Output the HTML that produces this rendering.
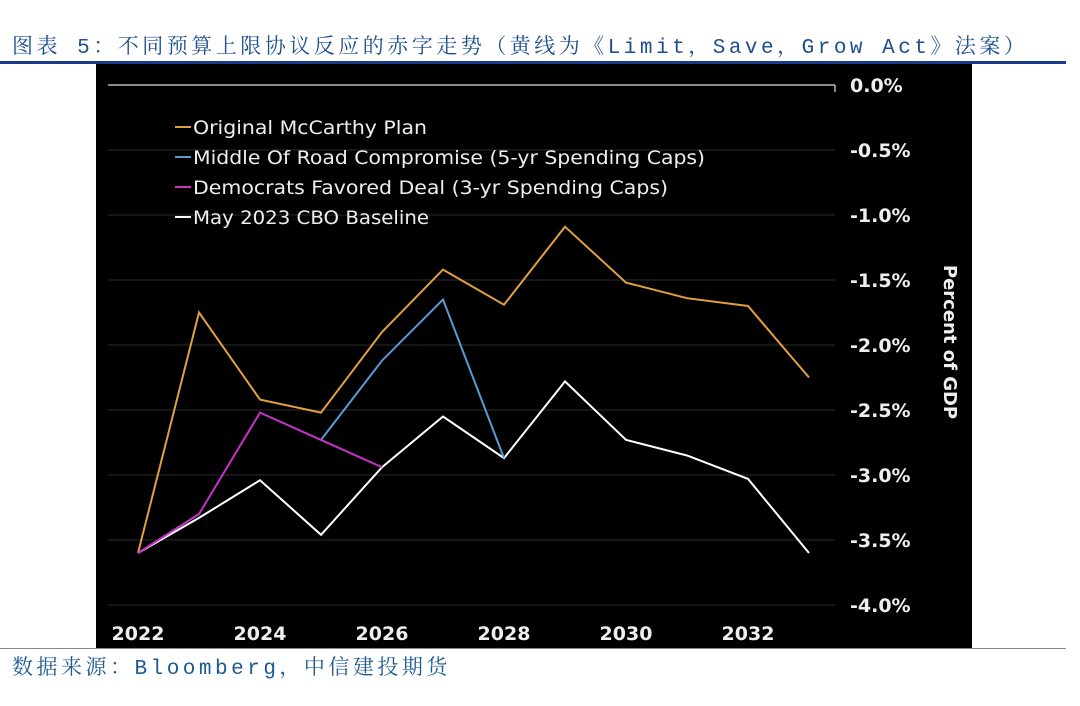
<!DOCTYPE html>
<html><head><meta charset="utf-8"><style>
body{margin:0;width:1080px;height:706px;background:#fff;overflow:hidden;position:relative;font-family:"Liberation Mono","Noto Serif CJK SC",serif}
#title{position:absolute;left:12px;top:30px;font-size:21px;letter-spacing:3.5px;color:#1c4f8f;white-space:nowrap}
#rule{position:absolute;left:0;top:61px;width:1066px;height:3px;background:#1a3b8a}
#src{position:absolute;left:12px;top:651px;font-size:21px;letter-spacing:3.5px;color:#1c5a92;white-space:nowrap}
#bot{position:absolute;left:0;top:648px;width:1066px;height:1px;background:#888}
svg{position:absolute;left:0;top:0}
</style></head><body>
<div id="title">图表 5：不同预算上限协议反应的赤字走势（黄线为《Limit，Save，Grow Act》法案）</div>
<div id="rule"></div>
<svg id="chart" width="1080" height="706"></svg>
<div id="bot"></div>
<div id="src">数据来源：Bloomberg，中信建投期货</div>
<script>
const years=[2022,2023,2024,2025,2026,2027,2028,2029,2030,2031,2032,2033];
const orangeVals=[-3.6,-1.75,-2.42,-2.52,-1.9,-1.42,-1.69,-1.09,-1.52,-1.64,-1.7,-2.25];
const blueYears=[2025,2026,2027,2028];
const blueVals=[-2.73,-2.12,-1.65,-2.87];
const magentaYears=[2022,2023,2024,2025,2026];
const magentaVals=[-3.6,-3.3,-2.52,-2.73,-2.94];
const whiteVals=[-3.6,-3.33,-3.04,-3.46,-2.94,-2.55,-2.87,-2.28,-2.73,-2.85,-3.03,-3.6];
const yTicks=[0,-0.5,-1,-1.5,-2,-2.5,-3,-3.5,-4];
const yTickLabels=["0.0%","-0.5%","-1.0%","-1.5%","-2.0%","-2.5%","-3.0%","-3.5%","-4.0%"];
const xTicks=[2022,2024,2026,2028,2030,2032];
const legendLabels=["Original McCarthy Plan","Middle Of Road Compromise (5-yr Spending Caps)","Democrats Favored Deal (3-yr Spending Caps)","May 2023 CBO Baseline"];
const colors=["#e0a040","#5b9bd5","#c832c8","#ffffff"];
const X=v=>138+(v-2022)*61;
const Y=v=>85-v*130;
const svg=document.getElementById('chart');
const NS='http://www.w3.org/2000/svg';
function mk(t,a){const e=document.createElementNS(NS,t);for(const k in a)e.setAttribute(k,a[k]);svg.appendChild(e);return e;}
let bg=mk('rect',{x:96,y:64,width:876,height:585,fill:'#000'});


yTicks.forEach((t,i)=>{
 const g=mk('line',{x1:108,x2:835,y1:Y(t),y2:Y(t),stroke:i==0?'#bbb':'#1e1e1e','stroke-width':1.5});
 
 
 const tx=mk('text',{x:850,y:Y(t)+7,fill:'#eee','font-family':'DejaVu Sans, sans-serif','font-weight':'bold','font-size':19});
 tx.textContent=yTickLabels[i];
 
 
});
let tk=mk('line',{x1:835,x2:835,y1:Y(0),y2:Y(0)+7,stroke:'#bbb','stroke-width':1.5});


xTicks.forEach(t=>{
 const tx=mk('text',{x:X(t),y:640,fill:'#eee','font-family':'DejaVu Sans, sans-serif','font-weight':'bold','font-size':19,'text-anchor':'middle'});
 tx.textContent=t;
 
 
});
let yt=mk('text',{x:0,y:0,fill:'#eee','font-family':'DejaVu Sans, sans-serif','font-weight':'bold','font-size':18,'text-anchor':'middle',transform:'translate(944,342) rotate(90)'});
yt.textContent='Percent of GDP';


function line(xs,vs,c,name){
 const p=mk('polyline',{points:xs.map((x,i)=>X(x)+','+Y(vs[i])).join(' '),fill:'none',stroke:c,'stroke-width':2});
 
 
}
line(years,whiteVals,colors[3],'cbo-baseline-line');
line(years,orangeVals,colors[0],'mccarthy-plan-line');
line(blueYears,blueVals,colors[1],'middle-road-line');
line(magentaYears,magentaVals,colors[2],'democrats-deal-line');
legendLabels.forEach((l,i)=>{
 const y=127+i*30;
 const s=mk('line',{x1:175,x2:191,y1:y,y2:y,stroke:colors[i],'stroke-width':2});
 
 
 const tx=mk('text',{x:193,y:y+7,fill:'#eee','font-family':'DejaVu Sans, sans-serif','font-size':19,textLength:[234,512,475,236][i],lengthAdjust:'spacingAndGlyphs'});
 tx.textContent=l;
 
 
});
</script>
</body></html>
